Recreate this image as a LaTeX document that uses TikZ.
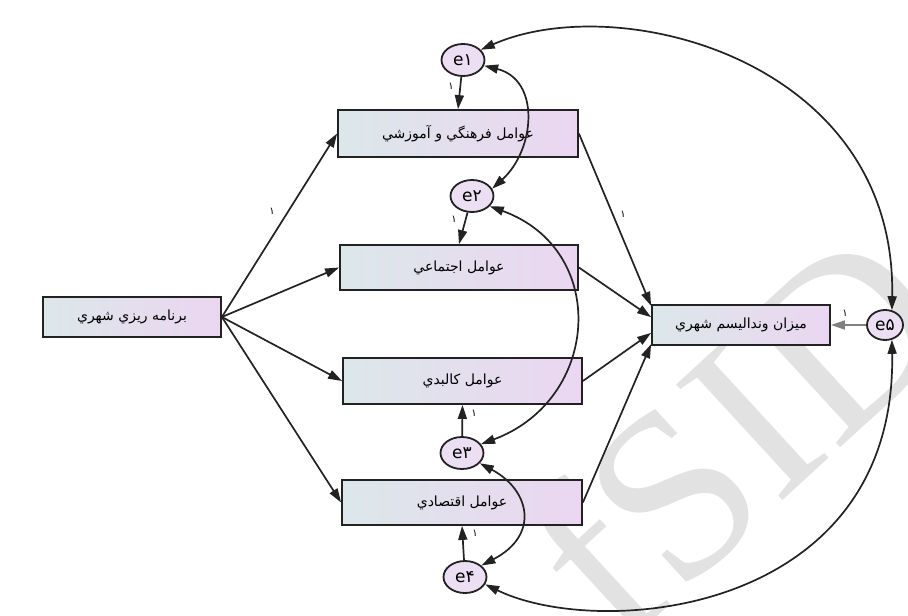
\documentclass[tikz,border=0pt]{standalone}
\usepackage{fontspec}
\setmainfont{Liberation Sans}
\newfontfamily\arabicfont[Script=Arabic]{DejaVu Sans}
\newfontfamily\wmfont{Liberation Serif}
\TeXXeTstate=1
\usetikzlibrary{arrows.meta,shapes.geometric}
\definecolor{boxL}{HTML}{DCE7EA}
\definecolor{boxR}{HTML}{EBD6F1}
\definecolor{errC}{HTML}{ECDFF3}
\definecolor{wmC}{HTML}{E2E2E2}
\definecolor{edgeC}{HTML}{222222}
\begin{document}
\begin{tikzpicture}[x=1pt,y=-1pt,
  boxnode/.style={draw=edgeC, line width=1.8pt, left color=boxL, right color=boxR,
    inner sep=0pt, font=\arabicfont\fontsize{14}{16}\selectfont},
  errnode/.style={ellipse, draw=edgeC, line width=1.8pt, fill=errC,
    minimum width=43pt, minimum height=32pt, inner sep=0pt,
    font=\arabicfont\fontsize{17}{18}\selectfont},
  arr/.style={-{Triangle[length=14pt,width=9pt]}, line width=1.7pt, draw=edgeC},
  dbl/.style={{Triangle[length=14pt,width=9pt]}-{Triangle[length=14pt,width=9pt]}, line width=1.7pt, draw=edgeC},
  lab/.style={font=\arabicfont\fontsize{10}{11}\selectfont, inner sep=0pt}]
\path[use as bounding box] (0,0) rectangle (908,616);
% watermark
\node[text=wmC, rotate=42.6, font=\wmfont\fontsize{240}{240}\selectfont, inner sep=0pt] (wmk) at (735,432) {fSID};
% boxes
\node[boxnode, minimum width=240pt, minimum height=47pt] (b1) at (458,133.5) {\beginR عوامل فرهنگي و آموزشي\endR};
\node[boxnode, minimum width=238pt, minimum height=45pt] (b2) at (459,267.5) {\beginR عوامل اجتماعي\endR};
\node[boxnode, minimum width=239pt, minimum height=46pt] (b3) at (462.5,381) {\beginR عوامل كالبدي\endR};
\node[boxnode, minimum width=240pt, minimum height=45pt] (b4) at (462,502.5) {\beginR عوامل اقتصادي\endR};
\node[boxnode, minimum width=178pt, minimum height=40pt] (lb) at (132,317) {\beginR برنامه ريزي شهري\endR};
\node[boxnode, minimum width=178pt, minimum height=40pt] (rb) at (741,325) {\beginR ميزان وندالیسم شهري\endR};
% error terms
\node[errnode] (e1) at (463,60) {e۱};
\node[errnode] (e2) at (472,196) {e۲};
\node[errnode] (e3) at (462,453) {e۳};
\node[errnode] (e4) at (465,577) {e۴};
\node[errnode, minimum width=36pt, minimum height=30pt] (e5) at (885,325) {e۵};
% paths
\draw[arr] (lb.east) -- (b1.west);
\draw[arr] (lb.east) -- (b2.west);
\draw[arr] (lb.east) -- (b3.west);
\draw[arr] (lb.east) -- (b4.west);
\draw[arr] (b1.east) -- (rb.168);
\draw[arr] (b2.east) -- (rb.175);
\draw[arr] (b3.east) -- (rb.185);
\draw[arr] (b4.east) -- (rb.192);
\draw[arr] (e1) -- (b1.north);
\draw[arr] (e2) -- (b2.north);
\draw[arr] (e3) -- (b3.south);
\draw[arr] (e4) -- (b4.south);
\draw[arr, draw=gray, color=gray] (e5) -- (rb.east);
% covariances
\draw[dbl] (e1.30) .. controls (619,-11) and (897,60) .. (e5.65);
\draw[dbl] (e1.-15) .. controls (541,80) and (535,150) .. (e2.20);
\draw[dbl] (e2.-30) .. controls (610,250) and (600,400) .. (e3.25);
\draw[dbl] (e3.-30) .. controls (530,490) and (540,535) .. (e4.35);
\draw[dbl] (e4.-20) .. controls (600,640) and (897,615) .. (e5.-65);
% labels
\node[lab] (l1) at (451,86) {۱};
\node[lab] (l2) at (454,219) {۱};
\node[lab] (l3) at (474,413) {۱};
\node[lab] (l4) at (475,533) {۱};
\node[lab] (l5) at (845,313) {۱};
\node[lab] (l6) at (272,211) {۱};
\node[lab] (l7) at (623,214) {۱};
\end{tikzpicture}
\end{document}
